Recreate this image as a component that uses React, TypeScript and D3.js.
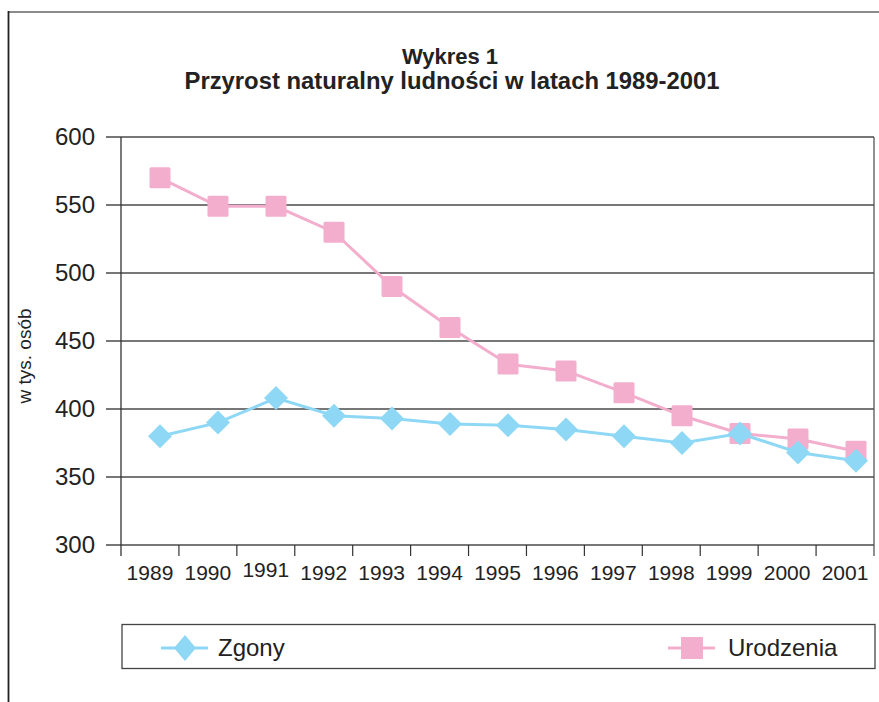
import { useEffect, useRef } from 'react';
import * as d3 from 'd3';

// data (thousands of people)
const years = ['1989', '1990', '1991', '1992', '1993', '1994', '1995', '1996', '1997', '1998', '1999', '2000', '2001'];
const zgony = [380, 390, 408, 395, 393, 389, 388, 385, 380, 375, 382, 368, 362];
const urodzenia = [570, 549, 549, 530, 490, 460, 433, 428, 412, 395, 382, 378, 369];
const yTicks = [300, 350, 400, 450, 500, 550, 600];

const W = 879;
const H = 702;
const BLUE = '#8ed8f6';
const PINK = '#f3aecd';
const FONT = 'Arial, "Liberation Sans", sans-serif';

const App = () => {
    const ref = useRef<SVGSVGElement>(null);

    useEffect(() => {
        const svg = d3.select(ref.current);
        svg.selectAll('*').remove();

        const left = 121, right = 874, top = 137, bottom = 545;
        const xBand = d3.scaleBand().domain(years).range([left, right]);
        // markers sit a bit right of the band centres in the original
        const xPt = d3.scalePoint().domain(years).range([160, 856]);
        const y = d3.scaleLinear().domain([300, 600]).range([bottom, top]);

        // outer frame (only top and left edges visible)
        svg.append('line').attr('x1', 8).attr('x2', W).attr('y1', 12).attr('y2', 12)
            .attr('stroke', '#666').attr('stroke-width', 1.6);
        svg.append('line').attr('x1', 8.5).attr('x2', 8.5).attr('y1', 11).attr('y2', H)
            .attr('stroke', '#222').attr('stroke-width', 1.8);

        // title
        svg.append('text').attr('x', 450).attr('y', 64).attr('text-anchor', 'middle')
            .attr('font-family', FONT).attr('font-weight', 'bold').attr('font-size', 22).attr('fill', '#222')
            .text('Wykres 1');
        svg.append('text').attr('x', 452).attr('y', 89).attr('text-anchor', 'middle')
            .attr('font-family', FONT).attr('font-weight', 'bold').attr('font-size', 23).attr('fill', '#222')
            .attr('textLength', 535).attr('lengthAdjust', 'spacingAndGlyphs')
            .text('Przyrost naturalny ludności w latach 1989-2001');

        // grid lines + y tick labels
        yTicks.forEach((t) => {
            svg.append('line').attr('x1', 106).attr('x2', right).attr('y1', y(t)).attr('y2', y(t))
                .attr('stroke', '#4a4a4a').attr('stroke-width', 1.3);
            svg.append('text').attr('x', 95).attr('y', y(t)).attr('dy', '0.35em').attr('text-anchor', 'end')
                .attr('font-family', FONT).attr('font-size', 24).attr('fill', '#222')
                .text(t);
        });

        // axes verticals
        svg.append('line').attr('x1', left).attr('x2', left).attr('y1', top).attr('y2', bottom + 11)
            .attr('stroke', '#333').attr('stroke-width', 1.3);
        svg.append('line').attr('x1', right).attr('x2', right).attr('y1', top).attr('y2', bottom + 11)
            .attr('stroke', '#555').attr('stroke-width', 1.3);

        // x ticks between categories + labels
        years.forEach((yr, i) => {
            const x0 = xBand(yr) as number;
            if (i > 0) {
                svg.append('line').attr('x1', x0).attr('x2', x0).attr('y1', bottom).attr('y2', bottom + 11)
                    .attr('stroke', '#333').attr('stroke-width', 1.2);
            }
            svg.append('text').attr('x', x0 + xBand.bandwidth() / 2).attr('y', yr === '1991' ? 577 : 580)
                .attr('text-anchor', 'middle').attr('font-family', FONT).attr('font-size', 21).attr('fill', '#222')
                .text(yr);
        });

        // y axis title
        svg.append('text').attr('transform', 'translate(31,356) rotate(-90)').attr('text-anchor', 'middle')
            .attr('font-family', FONT).attr('font-size', 19).attr('fill', '#222')
            .text('w tys. osób');

        const line = d3.line<number>().x((_, i) => xPt(years[i]) as number).y((d) => y(d));

        // Urodzenia
        svg.append('path').datum(urodzenia).attr('d', line).attr('fill', 'none')
            .attr('stroke', PINK).attr('stroke-width', 3);
        svg.selectAll('.sq').data(urodzenia).enter().append('rect')
            .attr('x', (_, i) => (xPt(years[i]) as number) - 10.5).attr('y', (d) => y(d) - 10.5)
            .attr('width', 21).attr('height', 21).attr('rx', 1.5).attr('fill', PINK);

        // Zgony
        svg.append('path').datum(zgony).attr('d', line).attr('fill', 'none')
            .attr('stroke', BLUE).attr('stroke-width', 3);
        const diamond = 'M0,-12L12,0L0,12L-12,0Z';
        svg.selectAll('.dm').data(zgony).enter().append('path')
            .attr('transform', (d, i) => `translate(${xPt(years[i])},${y(d)})`)
            .attr('d', diamond).attr('fill', BLUE);

        // legend
        svg.append('rect').attr('x', 122).attr('y', 624.5).attr('width', 753).attr('height', 44)
            .attr('fill', 'white').attr('stroke', '#444').attr('stroke-width', 1.3);
        svg.append('line').attr('x1', 161).attr('x2', 208).attr('y1', 648).attr('y2', 648)
            .attr('stroke', BLUE).attr('stroke-width', 3);
        svg.append('path').attr('transform', 'translate(185,648)').attr('d', 'M0,-13L11,0L0,13L-11,0Z').attr('fill', BLUE);
        svg.append('text').attr('x', 218).attr('y', 656).attr('font-family', FONT).attr('font-size', 24)
            .attr('fill', '#222').text('Zgony');
        svg.append('line').attr('x1', 668).attr('x2', 715).attr('y1', 648).attr('y2', 648)
            .attr('stroke', PINK).attr('stroke-width', 3);
        svg.append('rect').attr('x', 681).attr('y', 637).attr('width', 22).attr('height', 22).attr('fill', PINK);
        svg.append('text').attr('x', 728).attr('y', 656).attr('font-family', FONT).attr('font-size', 24)
            .attr('fill', '#222').text('Urodzenia');

        return () => { svg.selectAll('*').remove(); };
    }, []);

    return (
        <svg ref={ref} width={W} height={H} style={{ position: 'absolute', left: 0, top: 0, background: 'white' }} />
    );
};

export default App;
